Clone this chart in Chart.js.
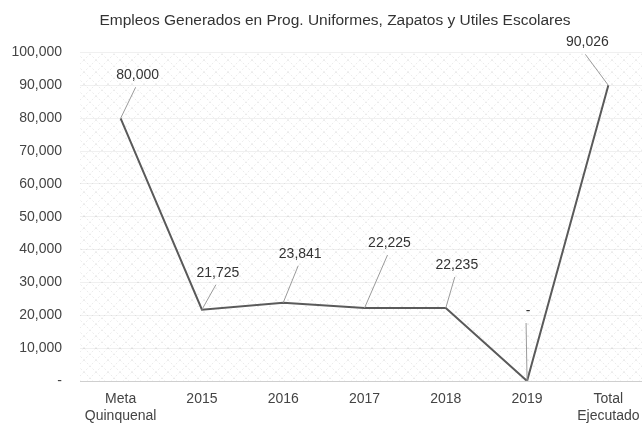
<!DOCTYPE html>
<html lang="es">
<head>
<meta charset="utf-8">
<title>Empleos Generados</title>
<script src="https://cdn.jsdelivr.net/npm/chart.js@4/dist/chart.umd.min.js"></script>
<style>
	html, body {
		margin: 0;
		padding: 0;
		background: #fff;
		overflow: hidden;
	}
	#chart-wrap {
		position: relative;
		width: 670px;
		height: 428px;
	}
</style>
</head>
<body>
<div id="chart-wrap">
	<canvas id="empleos-chart"></canvas>
</div>
<script>
	// Chart data
	const categories = [['Meta', 'Quinquenal'], '2015', '2016', '2017', '2018', '2019', ['Total', 'Ejecutado']];
	const empleos = [80000, 21725, 23841, 22225, 22235, 0, 90026];
	const yTicks = [0, 10000, 20000, 30000, 40000, 50000, 60000, 70000, 80000, 90000, 100000];
	const chartTitle = 'Empleos Generados en Prog. Uniformes, Zapatos y Utiles Escolares';

(function() {
	'use strict';

	const FONT = "'Liberation Sans', Arial, sans-serif";

	// where each value label sits, relative to its point (px)
	const labelOffsets = [
		[17, -43], [16, -37], [17, -49], [25, -65], [11, -43], [1, -70], [-21, -43]
	];

	/**
	 * Format a number as 12,345, zero as a dash
	 */
	function fmt(v) {
		if (v === 0) return '-';
		return v.toLocaleString('en-US');
	}

	/**
	 * Light cross-hatch like the scanned original
	 */
	function makeHatch(ctx) {
		const tile = document.createElement('canvas');
		tile.width = 12;
		tile.height = 12;
		const t = tile.getContext('2d');
		t.strokeStyle = 'rgba(0,0,0,0.08)';
		t.lineWidth = 1;
		t.setLineDash([2, 2]);
		t.beginPath();
		t.moveTo(0, 0);
		t.lineTo(12, 12);
		t.moveTo(12, 0);
		t.lineTo(0, 12);
		t.stroke();
		return ctx.createPattern(tile, 'repeat');
	}

	const hatchPlugin = {
		id: 'hatch',
		beforeDraw(chart) {
			const { ctx, chartArea } = chart;
			ctx.save();
			ctx.fillStyle = makeHatch(ctx);
			ctx.fillRect(chartArea.left, chartArea.top, chartArea.right - chartArea.left, chartArea.bottom - chartArea.top);
			ctx.restore();
		}
	};

	// value labels with leader lines
	const valueLabels = {
		id: 'valueLabels',
		afterDatasetsDraw(chart) {
			const ctx = chart.ctx;
			const meta = chart.getDatasetMeta(0);
			const values = chart.data.datasets[0].data;
			ctx.save();
			meta.data.forEach((pt, i) => {
				const off = labelOffsets[i];
				const lx = pt.x + off[0];
				const ly = pt.y + off[1];
				ctx.strokeStyle = '#9a9a9a';
				ctx.lineWidth = 1;
				ctx.beginPath();
				ctx.moveTo(pt.x, pt.y);
				ctx.lineTo(lx - 2, ly + 12);
				ctx.stroke();
				ctx.fillStyle = '#333';
				ctx.font = '14px ' + FONT;
				ctx.textAlign = 'center';
				ctx.textBaseline = 'middle';
				ctx.fillText(fmt(values[i]), lx, ly);
			});
			ctx.restore();
		}
	};

	function init() {
		const canvas = document.getElementById('empleos-chart');
		if (!canvas) return;

		new Chart(canvas.getContext('2d'), {
			type: 'line',
			data: {
				labels: categories,
				datasets: [{
					data: empleos,
					borderColor: '#5a5a5a',
					borderWidth: 2,
					pointRadius: 0,
					tension: 0,
					fill: false
				}]
			},
			options: {
				responsive: true,
				maintainAspectRatio: false,
				animation: false,
				layout: {
					padding: { left: 10, right: 10, top: 0, bottom: 3 }
				},
				plugins: {
					legend: { display: false },
					tooltip: { enabled: false },
					title: {
						display: true,
						text: chartTitle,
						color: '#333',
						font: { family: FONT, size: 15.5, weight: 'normal' },
						padding: { top: 11, bottom: 23 }
					}
				},
				scales: {
					x: {
						offset: true,
						afterFit(scale) {
							scale.height = 44;
						},
						grid: { display: false, drawTicks: false },
						border: { display: true, color: '#cfcfcf', width: 1 },
						ticks: {
							color: '#444',
							font: { family: FONT, size: 14 },
							padding: 10,
							maxRotation: 0,
							autoSkip: false
						}
					},
					y: {
						min: 0,
						max: 100000,
						afterFit(scale) {
							scale.width = 70;
						},
						afterBuildTicks(scale) {
							scale.ticks = yTicks.map(v => ({ value: v }));
						},
						grid: { color: 'rgba(0,0,0,0.06)', drawTicks: false },
						border: { display: false },
						ticks: {
							color: '#444',
							font: { family: FONT, size: 14 },
							padding: 18,
							callback: function(v) {
								return fmt(v);
							}
						}
					},
					// empty spacer on the right so the title centres like the original
					spacer: {
						type: 'linear',
						position: 'right',
						afterFit(scale) {
							scale.width = 11;
						},
						grid: { display: false, drawTicks: false },
						border: { display: false },
						ticks: { display: false }
					}
				}
			},
			plugins: [hatchPlugin, valueLabels]
		});
	}

	if (document.readyState === 'loading') {
		document.addEventListener('DOMContentLoaded', init);
	} else {
		init();
	}
})();
</script>
</body>
</html>
